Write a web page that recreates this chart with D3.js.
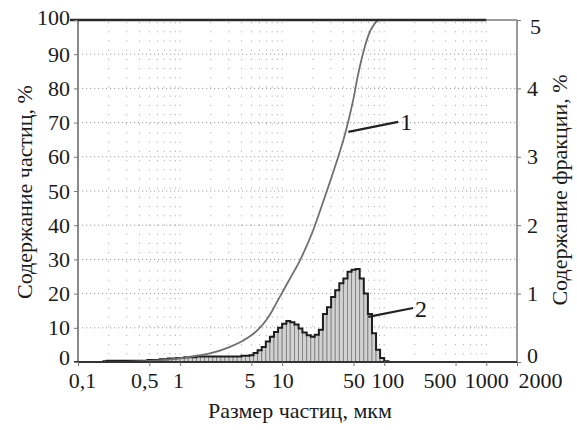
<!DOCTYPE html>
<html>
<head>
<meta charset="utf-8">
<script src="https://cdn.jsdelivr.net/npm/d3@7"></script>
<style>
  html, body { margin: 0; padding: 0; background: #fff; }
  svg { display: block; }
  text { font-family: "Liberation Serif", "DejaVu Serif", serif; fill: #1a1a1a; }
</style>
</head>
<body>
<svg id="chart" width="577" height="430"></svg>
<script>
// ---- data ----
const xTickValues = [0.1, 0.5, 1, 5, 10, 50, 100, 500, 1000, 2000];
const yLeftTicks = [0, 10, 20, 30, 40, 50, 60, 70, 80, 90, 100];
const yRightTicks = [0, 1, 2, 3, 4, 5];

// curve 1: cumulative content, %
const cumSizes  = [0.2, 0.3, 0.5, 0.7, 1, 1.5, 2, 3, 4, 5, 6, 7, 8, 9, 10, 12, 15, 20, 25, 30, 35, 40, 45, 50, 55, 60, 65, 70, 80, 90, 100, 1000];
const cumValues = [0, 0.05, 0.3, 0.6, 1.1, 1.9, 2.6, 4.3, 6.0, 7.8, 9.9, 12.3, 15, 17.8, 20.3, 24.5, 29.8, 38.3, 46.5, 53.4, 59.5, 65.1, 71, 77, 83.5, 88.5, 92.5, 95.5, 98.8, 100, 100, 100];

// curve 2: fraction content, % (bins between consecutive edges)
const binEdges = [
  0.174, 0.191, 0.209, 0.229, 0.251, 0.275, 0.302, 0.331, 0.363, 0.398, 0.437, 0.479, 0.525, 0.575, 0.631, 0.692, 0.759, 0.832, 0.912,
  1.00, 1.10, 1.20, 1.32, 1.45, 1.58, 1.74, 1.91, 2.09, 2.29, 2.51, 2.75, 3.02, 3.31, 3.63, 3.98, 4.37, 4.79, 5.25, 5.75, 6.31, 6.92, 7.59, 8.32, 9.12,
  10.0, 11.0, 12.0, 13.2, 14.5, 15.8, 17.4, 19.1, 20.9, 22.9, 25.1, 27.5, 30.2, 33.1, 36.3, 39.8, 43.7, 47.9, 52.5, 57.5, 63.1, 69.2, 75.9, 83.2, 91.2,
  100, 110
];
const fracValues = [
  0.01, 0.02, 0.02, 0.02, 0.02, 0.02, 0.02, 0.02, 0.02, 0.02, 0.02, 0.03, 0.03, 0.03, 0.04, 0.04, 0.05, 0.05, 0.06,
  0.06, 0.07, 0.07, 0.07, 0.08, 0.08, 0.08, 0.08, 0.08, 0.08, 0.08, 0.08, 0.08, 0.08, 0.08, 0.09, 0.09, 0.10, 0.13, 0.17, 0.22, 0.30, 0.37, 0.44, 0.50,
  0.56, 0.60, 0.58, 0.55, 0.49, 0.43, 0.39, 0.37, 0.40, 0.47, 0.70, 0.80, 0.95, 1.05, 1.15, 1.22, 1.32, 1.35, 1.36, 1.22, 1.00, 0.70, 0.42, 0.18, 0.06,
  0.01
];

// annotations (data units: size, axis value)
const label1 = { text: "1", from: [44.5, 67.3], to: [137, 70.2] };   // left-axis units
const label2 = { text: "2", from: [69.6, 0.66], to: [192, 0.79] };   // right-axis units

// ---- layout ----
const svg = d3.select("#chart");
const m = { left: 78, right: 517, top: 20, bottom: 362 };
const x = d3.scaleLog().domain([0.1, 2000]).range([m.left, m.right]);
const yL = d3.scaleLinear().domain([0, 100]).range([m.bottom, m.top]);
const yR = d3.scaleLinear().domain([0, 5]).range([m.bottom, m.top]);

const fmt = v => String(v).replace(".", ",");
const SERIF = "Liberation Serif";

// grid
const gridG = svg.append("g");
gridG.selectAll("line.h").data(yLeftTicks.filter(v => v > 0 && v < 100)).join("line")
  .attr("x1", m.left).attr("x2", m.right)
  .attr("y1", d => yL(d)).attr("y2", d => yL(d))
  .attr("stroke", "#9a9a9a").attr("stroke-width", 1).attr("stroke-dasharray", "1.2,2.8");
const vGrid = x.ticks().filter(v => v > 0.1 && v <= 1000);
gridG.selectAll("line.v").data(vGrid).join("line")
  .attr("x1", d => x(d)).attr("x2", d => x(d))
  .attr("y1", m.top + 2).attr("y2", m.bottom)
  .attr("stroke", "#b0b0b0").attr("stroke-width", 1).attr("stroke-dasharray", "1.2,8");

// histogram bars
const bins = fracValues.map((v, i) => ({ x0: binEdges[i], x1: binEdges[i + 1], v }));
svg.append("g").selectAll("rect").data(bins).join("rect")
  .attr("x", d => x(d.x0)).attr("width", d => x(d.x1) - x(d.x0))
  .attr("y", d => yR(d.v)).attr("height", d => m.bottom - yR(d.v))
  .attr("fill", "#d2d2d2").attr("stroke", "#7a7a7a").attr("stroke-width", 0.8);

// histogram outline (step)
const stepPts = [];
bins.forEach(d => { stepPts.push([x(d.x0), yR(d.v)]); stepPts.push([x(d.x1), yR(d.v)]); });
stepPts.push([x(bins[bins.length - 1].x1), yR(0)]);
svg.append("path").attr("d", d3.line()(stepPts))
  .attr("fill", "none").attr("stroke", "#1e1e1e").attr("stroke-width", 2);

// cumulative curve
svg.append("path").datum(cumSizes.map((s, i) => [s, cumValues[i]]))
  .attr("d", d3.line().x(d => x(d[0])).y(d => yL(d[1])).curve(d3.curveMonotoneX))
  .attr("fill", "none").attr("stroke", "#707070").attr("stroke-width", 1.8);

// frame
svg.append("line").attr("x1", m.left).attr("x2", m.left).attr("y1", m.top).attr("y2", m.bottom + 1)
  .attr("stroke", "#8a8a8a").attr("stroke-width", 2);
svg.append("line").attr("x1", m.right).attr("x2", m.right).attr("y1", m.top).attr("y2", m.bottom + 1)
  .attr("stroke", "#9a9a9a").attr("stroke-width", 2);
svg.append("line").attr("x1", m.left).attr("x2", m.right).attr("y1", m.top).attr("y2", m.top)
  .attr("stroke", "#9a9a9a").attr("stroke-width", 2);
// top 100% line
svg.append("line").attr("x1", x(0.1) - 8).attr("x2", x(1000)).attr("y1", yL(100)).attr("y2", yL(100))
  .attr("stroke", "#2a2a2a").attr("stroke-width", 2.5);

// bottom axis
const xAxis = d3.axisBottom(x).tickValues(xTickValues).tickFormat(fmt).tickSize(4).tickPadding(6);
const xg = svg.append("g").attr("transform", `translate(0,${m.bottom})`).call(xAxis)
  .attr("font-family", SERIF);
xg.select(".domain").attr("stroke", "#333").attr("stroke-width", 2).attr("d", `M${m.left - 4},0H${m.right}`);
xg.selectAll(".tick line").attr("stroke", "#777");
const xLabelShift = { 0.1: 4, 0.5: -5, 1: -2, 5: -2, 100: 3, 500: -16, 2000: 23 };
xg.selectAll(".tick text").attr("font-size", 22).attr("fill", "#1a1a1a")
  .attr("font-family", SERIF)
  .attr("dx", d => xLabelShift[d] || 0);

// left axis
const yLAxis = d3.axisLeft(yL).tickValues(yLeftTicks).tickFormat(d3.format("d")).tickSize(4).tickPadding(4);
const ylg = svg.append("g").attr("transform", `translate(${m.left},0)`).call(yLAxis)
  .attr("font-family", SERIF);
ylg.select(".domain").remove();
ylg.selectAll(".tick line").attr("stroke", "#777");
ylg.selectAll(".tick text").attr("font-size", 22).attr("fill", "#1a1a1a")
  .attr("font-family", SERIF)
  .attr("dy", d => d === 0 ? "0.1em" : d === 100 ? "0.22em" : "0.32em");

// right axis
const yRAxis = d3.axisRight(yR).tickValues(yRightTicks).tickFormat(d3.format("d")).tickSize(4).tickPadding(6);
const yrg = svg.append("g").attr("transform", `translate(${m.right},0)`).call(yRAxis)
  .attr("font-family", SERIF);
yrg.select(".domain").remove();
yrg.selectAll(".tick line").attr("stroke", "#777");
yrg.selectAll(".tick text").attr("font-size", 22).attr("fill", "#1a1a1a")
  .attr("font-family", SERIF)
  .attr("dx", d => d === 5 ? 3 : 0)
  .attr("dy", d => d === 0 ? "0.0em" : d === 5 ? "0.6em" : "0.32em");

// axis titles
svg.append("text").attr("x", 300).attr("y", 418).attr("text-anchor", "middle")
  .attr("font-size", 22).text("Размер частиц, мкм");
svg.append("text").attr("transform", "translate(32,192) rotate(-90)").attr("text-anchor", "middle")
  .attr("font-size", 22).text("Содержание частиц, %");
svg.append("text").attr("transform", "translate(567,190) rotate(-90)").attr("text-anchor", "middle")
  .attr("font-size", 22).text("Содержание фракции, %");

// annotations
svg.append("line")
  .attr("x1", x(label1.from[0])).attr("y1", yL(label1.from[1]))
  .attr("x2", x(label1.to[0])).attr("y2", yL(label1.to[1]))
  .attr("stroke", "#222").attr("stroke-width", 2.2);
svg.append("text").attr("x", x(label1.to[0]) + 2).attr("y", yL(label1.to[1]) + 8)
  .attr("font-size", 24).text(label1.text);
svg.append("line")
  .attr("x1", x(label2.from[0])).attr("y1", yR(label2.from[1]))
  .attr("x2", x(label2.to[0])).attr("y2", yR(label2.to[1]))
  .attr("stroke", "#222").attr("stroke-width", 2.2);
svg.append("text").attr("x", x(label2.to[0]) + 2).attr("y", yR(label2.to[1]) + 9)
  .attr("font-size", 24).text(label2.text);
</script>
</body>
</html>
